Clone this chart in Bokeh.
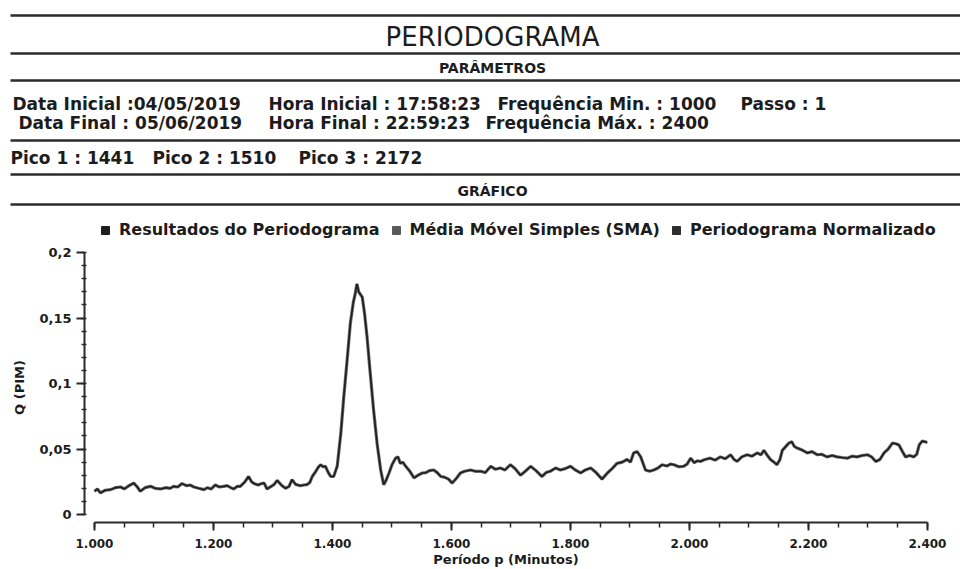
from bokeh.plotting import figure
from bokeh.models import Range1d, FixedTicker, Legend, LegendItem
from bokeh.embed import file_html
from bokeh.resources import INLINE
from bokeh.core.properties import value

# ---------------- data ----------------
periodo = [1000, 1005, 1010, 1018, 1027, 1035, 1044, 1050, 1058, 1066, 1072, 1077, 1085, 1094, 1102,
           1111, 1120, 1127, 1133, 1140, 1147, 1155, 1161, 1167, 1175, 1184, 1190, 1196, 1203, 1210,
           1217, 1223, 1229, 1234, 1240, 1245, 1252, 1259, 1264, 1268, 1275, 1280, 1285, 1290, 1297,
           1302, 1307, 1314, 1321, 1327, 1332, 1338, 1346, 1352, 1357, 1362, 1366, 1372, 1376, 1380,
           1384, 1388, 1393, 1397, 1402, 1408, 1414, 1419, 1425, 1430, 1435, 1438, 1441, 1444, 1450,
           1454, 1458, 1463, 1469, 1475, 1481, 1486, 1490, 1495, 1500, 1506, 1510, 1514, 1518, 1523,
           1530, 1537, 1544, 1551, 1557, 1563, 1570, 1576, 1582, 1588, 1595, 1601, 1608, 1615, 1622,
           1632, 1640, 1649, 1657, 1666, 1674, 1682, 1690, 1699, 1707, 1716, 1724, 1733, 1742, 1752,
           1759, 1766, 1775, 1783, 1791, 1800, 1808, 1817, 1825, 1834, 1843, 1853, 1862, 1870, 1878,
           1887, 1895, 1901, 1906, 1912, 1918, 1926, 1933, 1940, 1947, 1954, 1962, 1968, 1974, 1982,
           1990, 1996, 2002, 2008, 2013, 2018, 2026, 2035, 2043, 2052, 2060, 2069, 2075, 2080, 2088,
           2097, 2105, 2114, 2120, 2125, 2131, 2136, 2142, 2147, 2152, 2156, 2162, 2167, 2172, 2176,
           2181, 2190, 2198, 2206, 2215, 2222, 2231, 2240, 2248, 2256, 2265, 2273, 2282, 2290, 2299,
           2306, 2313, 2320, 2327, 2334, 2341, 2347, 2352, 2358, 2363, 2370, 2377, 2382, 2386, 2391,
           2396, 2400]
q_pim = [0.0177, 0.0195, 0.0165, 0.0185, 0.0190, 0.0205, 0.0210, 0.0195, 0.0220, 0.0240, 0.0210, 0.0177, 0.0205, 0.0215, 0.0200,
         0.0195, 0.0205, 0.0200, 0.0215, 0.0210, 0.0236, 0.0220, 0.0225, 0.0210, 0.0200, 0.0190, 0.0205, 0.0195, 0.0225, 0.0210,
         0.0215, 0.0220, 0.0205, 0.0195, 0.0215, 0.0215, 0.0245, 0.0290, 0.0250, 0.0236, 0.0225, 0.0235, 0.0240, 0.0195, 0.0215,
         0.0230, 0.0260, 0.0225, 0.0200, 0.0215, 0.0266, 0.0230, 0.0220, 0.0225, 0.0228, 0.0245, 0.0290, 0.0330, 0.0360, 0.0380,
         0.0365, 0.0368, 0.0320, 0.0290, 0.0290, 0.0370, 0.0620, 0.0900, 0.1200, 0.1460, 0.1620, 0.1680, 0.1760, 0.1700, 0.1660,
         0.1530, 0.1360, 0.1100, 0.0800, 0.0540, 0.0340, 0.0228, 0.0260, 0.0317, 0.0380, 0.0430, 0.0440, 0.0390, 0.0400, 0.0368,
         0.0330, 0.0280, 0.0300, 0.0317, 0.0320, 0.0335, 0.0340, 0.0320, 0.0290, 0.0285, 0.0270, 0.0240, 0.0275, 0.0317, 0.0330,
         0.0340, 0.0330, 0.0330, 0.0320, 0.0368, 0.0345, 0.0355, 0.0340, 0.0380, 0.0350, 0.0300, 0.0330, 0.0368, 0.0335, 0.0290,
         0.0320, 0.0330, 0.0355, 0.0340, 0.0350, 0.0368, 0.0340, 0.0317, 0.0340, 0.0355, 0.0320, 0.0270, 0.0317, 0.0350, 0.0390,
         0.0400, 0.0420, 0.0400, 0.0470, 0.0480, 0.0440, 0.0340, 0.0330, 0.0340, 0.0355, 0.0380, 0.0370, 0.0385, 0.0380, 0.0365,
         0.0368, 0.0385, 0.0430, 0.0395, 0.0410, 0.0405, 0.0420, 0.0430, 0.0415, 0.0440, 0.0425, 0.0456, 0.0420, 0.0405, 0.0440,
         0.0456, 0.0445, 0.0470, 0.0455, 0.0490, 0.0450, 0.0420, 0.0400, 0.0380, 0.0420, 0.0490, 0.0520, 0.0545, 0.0555, 0.0520,
         0.0507, 0.0490, 0.0470, 0.0480, 0.0456, 0.0460, 0.0440, 0.0450, 0.0440, 0.0435, 0.0430, 0.0445, 0.0440, 0.0450, 0.0456,
         0.0440, 0.0405, 0.0420, 0.0470, 0.0500, 0.0545, 0.0540, 0.0530, 0.0480, 0.0440, 0.0450, 0.0440, 0.0460, 0.0530, 0.0560,
         0.0555, 0.0550]

series_names = ["Resultados do Periodograma", "Média Móvel Simples (SMA)", "Periodograma Normalizado"]
series_colors = ["#1e1e1e", "#5a5a5a", "#2e2e2e"]

x_ticks = [1000, 1200, 1400, 1600, 1800, 2000, 2200, 2400]
x_tick_labels = ["1.000", "1.200", "1.400", "1.600", "1.800", "2.000", "2.200", "2.400"]
x_minor_ticks = list(range(1000, 2401, 50))
y_ticks = [0, 0.05, 0.1, 0.15, 0.2]
y_tick_labels = ["0", "0,05", "0,1", "0,15", "0,2"]
y_minor_ticks = [i / 100 for i in range(0, 21)]

x_axis_title = "Período p (Minutos)"
y_axis_title = "Q (PIM)"

header_title = "PERIODOGRAMA"
section_titles = ["PARÂMETROS", "GRÁFICO"]
param_row1 = ["Data Inicial :04/05/2019", "Hora Inicial : 17:58:23", "Frequência Min. : 1000", "Passo : 1"]
param_row2 = ["Data Final : 05/06/2019", "Hora Final : 22:59:23", "Frequência Máx. : 2400"]
peak_texts = ["Pico 1 : 1441", "Pico 2 : 1510", "Pico 3 : 2172"]

# ---------------- header + legend (own root, pixel coordinates) ----------------
W = 960
HEAD_H = 244
CHART_H = 569 - HEAD_H
INK = "#1c1c1c"
FONT = "DejaVu Sans"
GFONT = value(FONT)
NAN = float("nan")

head = figure(width=W, height=HEAD_H, x_range=Range1d(0, W), y_range=Range1d(HEAD_H, 0),
              output_backend="svg", toolbar_location=None, x_axis_type=None, y_axis_type=None,
              min_border=0, min_border_left=0, min_border_right=0, min_border_top=0, min_border_bottom=0,
              outline_line_color=None)
head.grid.visible = False

rule_y = [15, 53, 80, 140, 174, 204]
head.segment(x0=[10] * len(rule_y), y0=rule_y, x1=[W] * len(rule_y), y1=rule_y,
             line_color="#2b2b2b", line_width=2.6)

head.text(x=[492], y=[36], text=[header_title], text_font=GFONT, text_font_size="26px",
          text_align="center", text_baseline="middle", text_color=INK)
head.text(x=[492, 492], y=[67, 190], text=section_titles, text_font=GFONT, text_font_size="14px",
          text_font_style="bold", text_align="center", text_baseline="middle", text_color=INK)
head.text(x=[12, 268, 497, 740], y=[103] * 4, text=param_row1, text_font=GFONT, text_font_size="17px",
          text_font_style="bold", text_align="left", text_baseline="middle", text_color=INK)
head.text(x=[18, 268, 485], y=[122] * 3, text=param_row2, text_font=GFONT, text_font_size="17px",
          text_font_style="bold", text_align="left", text_baseline="middle", text_color=INK)
head.text(x=[10, 152, 298], y=[157] * 3, text=peak_texts, text_font=GFONT, text_font_size="17px",
          text_font_style="bold", text_align="left", text_baseline="middle", text_color=INK)

# legend swatches: filled squares (no visible data point)
sw = [head.quad(left=[NAN], right=[NAN], top=[NAN], bottom=[NAN], fill_color=c, line_color=c)
      for c in series_colors]
legend = Legend(items=[LegendItem(label=n, renderers=[r]) for n, r in zip(series_names, sw)],
                orientation="horizontal", location=(100, 5),
                label_text_font=FONT, label_text_font_style="bold", label_text_font_size="16px",
                label_text_color=INK, glyph_width=10, glyph_height=10, label_standoff=9, spacing=11,
                padding=0, margin=0, border_line_color=None, background_fill_alpha=0)
head.add_layout(legend, "center")

# ---------------- chart ----------------
p = figure(width=W, height=CHART_H, x_range=Range1d(983.2, 2400), y_range=Range1d(-0.0061, 0.2),
           output_backend="svg", toolbar_location=None,
           min_border_left=84, min_border_right=33, min_border_top=8, min_border_bottom=46,
           outline_line_color=None)
p.grid.visible = False

r_sma = p.line(periodo, q_pim, line_color=series_colors[1], line_width=3.2, line_alpha=0.9)
r_res = p.line(periodo, q_pim, line_color=series_colors[0], line_width=1.6)

xa = p.xaxis[0]
xa.ticker = FixedTicker(ticks=x_ticks, minor_ticks=x_minor_ticks)
xa.bounds = (1000, 2400)
xa.major_label_overrides = dict(zip(x_ticks, x_tick_labels))
xa.axis_label = x_axis_title

ya = p.yaxis[0]
ya.ticker = FixedTicker(ticks=y_ticks, minor_ticks=y_minor_ticks)
ya.bounds = (0, 0.2)
ya.major_label_overrides = dict(zip(y_ticks, y_tick_labels))
ya.axis_label = y_axis_title

for ax in (xa, ya):
    ax.axis_line_color = "#2a2a2a"
    ax.axis_line_width = 2
    ax.major_tick_line_color = "#2a2a2a"
    ax.major_tick_line_width = 2
    ax.minor_tick_line_color = "#2a2a2a"
    ax.minor_tick_line_width = 1.5
    ax.major_tick_in = 0
    ax.major_tick_out = 8
    ax.major_label_text_font = FONT
    ax.major_label_text_font_style = "bold"
    ax.major_label_text_color = INK
    ax.axis_label_text_font = FONT
    ax.axis_label_text_font_style = "bold"
    ax.axis_label_text_color = INK

xa.major_label_text_font_size = "12px"
xa.axis_label_text_font_size = "13px"
xa.minor_tick_in = 0
xa.minor_tick_out = 5
xa.major_label_standoff = 8
xa.axis_label_standoff = 1

ya.major_label_text_font_size = "13px"
ya.axis_label_text_font_size = "13px"
ya.minor_tick_in = 2
ya.minor_tick_out = 3
ya.major_label_standoff = 5
ya.axis_label_standoff = 9

open("out.html", "w").write(file_html([head, p], INLINE))
